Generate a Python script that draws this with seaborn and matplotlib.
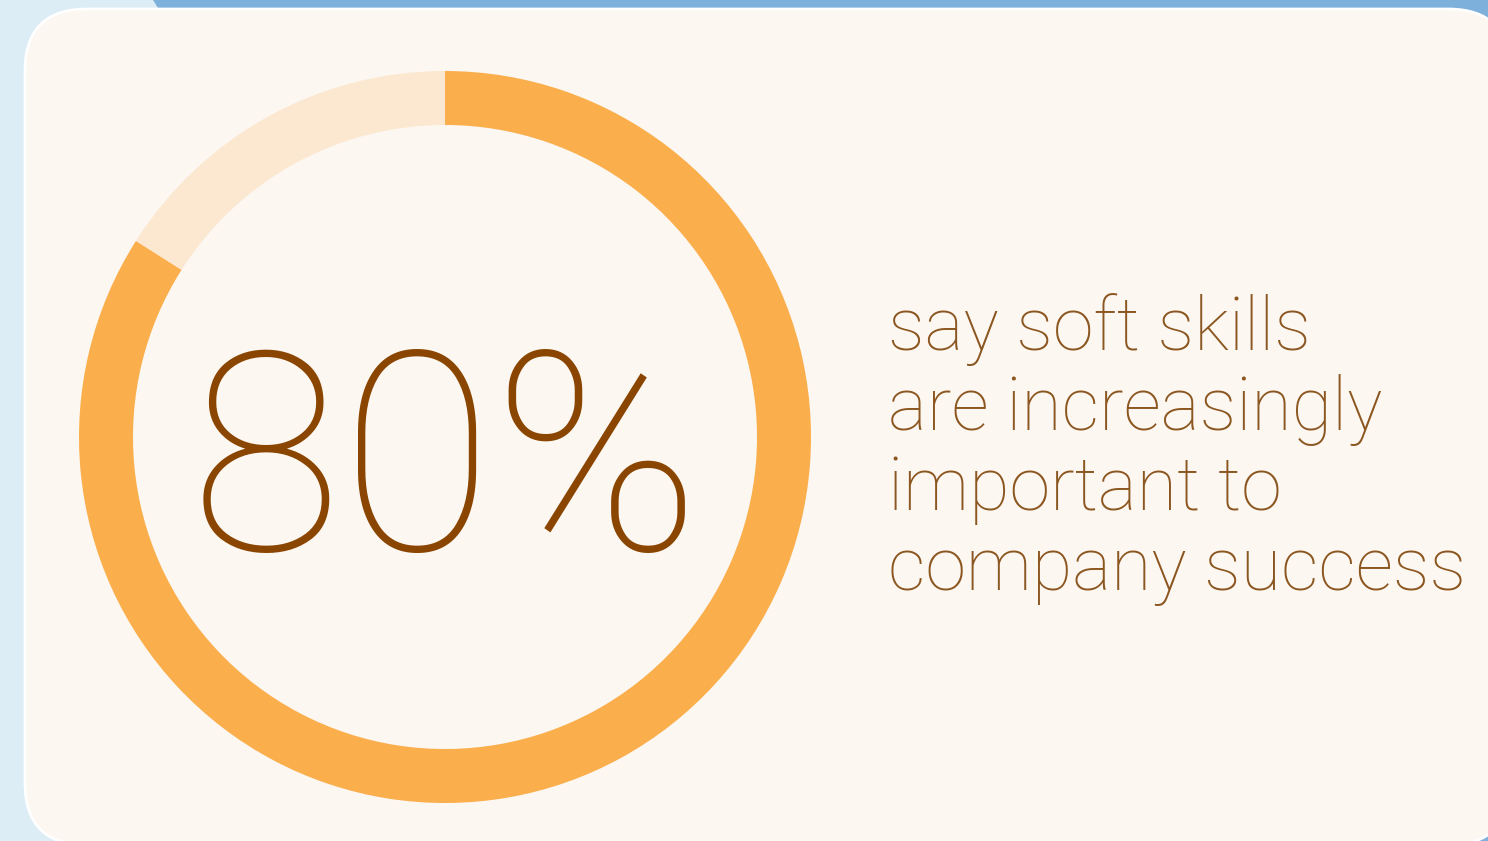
import matplotlib
matplotlib.use("Agg")
import matplotlib.pyplot as plt
from matplotlib.patches import FancyBboxPatch, Polygon
import seaborn as sns

# share of the ring and the texts
SEGMENTS = ["important", "not important"]
SHARES = [84, 16]
SEG_COLORS = ["#fbae4c", "#fce8d0"]
BIG_LABEL = "80%"
CAPTION = ["say soft skills", "are increasingly", "important to", "company success"]

W, H = 1488, 841

sns.set_theme(style="white")
plt.rcParams["font.family"] = ["Roboto", "DejaVu Sans"]

fig = plt.figure(figsize=(W / 100, H / 100), dpi=100)
ax = fig.add_axes([0, 0, 1, 1])
fig.patch.set_facecolor("#dcedf5")


def fy(y):
    # picture rows (top down) to axes y (bottom up)
    return H - y


# blue band behind the card
ax.add_patch(Polygon([(153, fy(0)), (W + 50, fy(0)), (W + 50, fy(H)), (680, fy(H))],
                     closed=True, facecolor="#7db0db", edgecolor="none", zorder=0))

# cream card
card = FancyBboxPatch((25, fy(845)), 1485, 836,
                      boxstyle="round,pad=0,rounding_size=62",
                      facecolor="#fcf7f1", edgecolor="#ffffff", linewidth=2, zorder=1)
ax.add_patch(card)

# donut ring
ax.pie(SHARES, colors=SEG_COLORS, startangle=90, counterclock=False,
       center=(445, fy(437)), radius=366, frame=True,
       wedgeprops=dict(width=54, edgecolor="none", zorder=2))

ax.text(445, fy(550), BIG_LABEL, ha="center", va="baseline", fontsize=200,
        fontweight="light", color="#8a4500", zorder=3)

for i, line in enumerate(CAPTION):
    ax.text(888, fy(350 + i * 80), line, ha="left", va="baseline", fontsize=53,
            fontweight="light", color="#8c5620", zorder=3)

ax.set_xlim(0, W)
ax.set_ylim(0, H)
ax.set_aspect("auto")
ax.set_axis_off()

fig.savefig("out.png", dpi=100, facecolor=fig.get_facecolor())
